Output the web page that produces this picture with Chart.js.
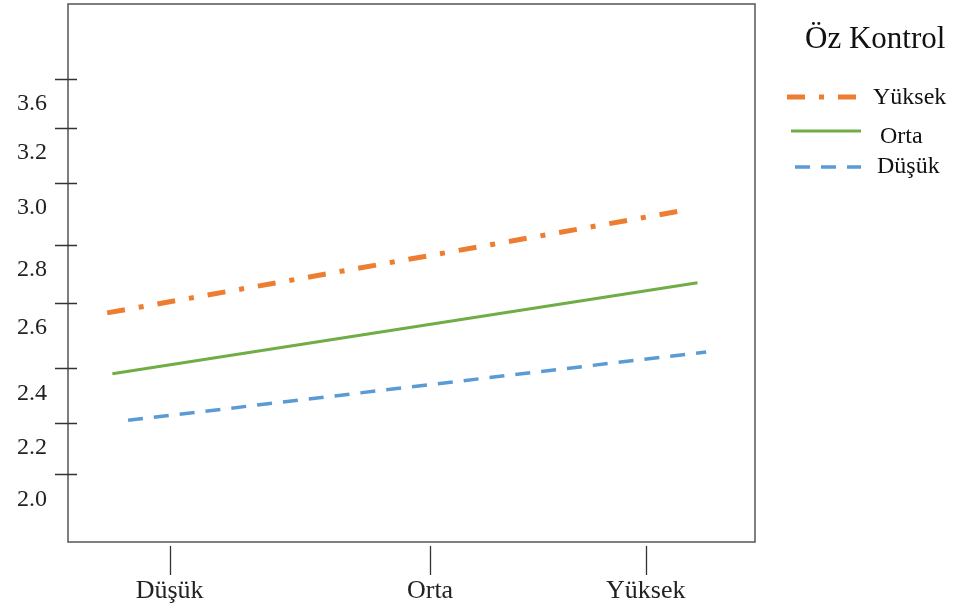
<!DOCTYPE html>
<html>
<head>
<meta charset="utf-8">
<script src="https://cdn.jsdelivr.net/npm/chart.js@4.4.0/dist/chart.umd.min.js"></script>
<style>
  body { margin: 0; background: #fff; }
</style>
</head>
<body>
<canvas id="ozKontrolChart" width="962" height="608"></canvas>
<script>
// categories on the x axis and the (uneven) y axis labels
const categories = ['Düşük', 'Orta', 'Yüksek'];
const yTickValues = [2.0, 2.2, 2.4, 2.6, 2.8, 3.0, 3.2, 3.6];
const yTickLabels = ['2.0', '2.2', '2.4', '2.6', '2.8', '3.0', '3.2', '3.6'];

// each line: start and end, x in category units, y in axis values
const seriesNames = ['Yüksek', 'Orta', 'Düşük'];
const yuksekX = [-0.24, 2.16];
const yuksekY = [2.57, 2.91];
const ortaX = [-0.22, 2.24];
const ortaY = [2.38, 2.67];
const dusukX = [-0.16, 2.28];
const dusukY = [2.21, 2.45];

// layout: tick spots as a fraction of the plot box (the picture is not evenly spaced)
const xTickFrac = [0.148, 0.527, 0.841];
const yTickFrac = [0.126, 0.221, 0.323, 0.444, 0.552, 0.667, 0.770, 0.861];

const serif = 'Liberation Serif';

// piecewise linear from axis values to plot fraction, extrapolating at both ends
function naarAs(v, waarden, posities) {
  let i = 0;
  while (i < waarden.length - 2 && v > waarden[i + 1]) i++;
  const t = (v - waarden[i]) / (waarden[i + 1] - waarden[i]);
  return posities[i] + t * (posities[i + 1] - posities[i]);
}

function maakPunten(xs, ys) {
  return xs.map((x, i) => ({
    x: naarAs(x, [0, 1, 2], xTickFrac),
    y: naarAs(ys[i], yTickValues, yTickFrac)
  }));
}

// box round the plot plus the tick marks
const kaderPlugin = {
  id: 'kader',
  afterDraw(chart) {
    const ctx = chart.ctx;
    const a = chart.chartArea;
    ctx.save();
    ctx.strokeStyle = '#5f5f5f';
    ctx.lineWidth = 1.6;
    ctx.strokeRect(a.left, a.top, a.right - a.left, a.bottom - a.top);
    ctx.strokeStyle = '#333';
    ctx.lineWidth = 1.3;
    ctx.beginPath();
    yTickFrac.forEach(f => {
      const y = Math.round(chart.scales.y.getPixelForValue(f)) + 0.5;
      ctx.moveTo(a.left - 13, y);
      ctx.lineTo(a.left + 9, y);
    });
    xTickFrac.forEach(f => {
      const x = Math.round(chart.scales.x.getPixelForValue(f)) + 0.5;
      ctx.moveTo(x, a.bottom + 4);
      ctx.lineTo(x, a.bottom + 33);
    });
    ctx.stroke();
    ctx.restore();
  }
};

// legend on the right, drawn from the datasets
const legendePlugin = {
  id: 'legende',
  afterDraw(chart) {
    const ctx = chart.ctx;
    const lijnStart = [787, 791, 795];
    const tekstX = [873, 880, 877];
    const lijnY = [97, 131, 167];
    const tekstY = [104, 143, 173];
    ctx.save();
    ctx.fillStyle = '#111';
    ctx.font = '31px "' + serif + '"';
    ctx.textBaseline = 'alphabetic';
    ctx.fillText('Öz Kontrol', 805, 48);
    chart.data.datasets.forEach((ds, i) => {
      ctx.strokeStyle = ds.borderColor;
      ctx.lineWidth = ds.borderWidth;
      ctx.setLineDash(ds.borderDash || []);
      ctx.beginPath();
      ctx.moveTo(lijnStart[i], lijnY[i]);
      ctx.lineTo(861, lijnY[i]);
      ctx.stroke();
      ctx.setLineDash([]);
      ctx.font = '24px "' + serif + '"';
      ctx.fillText(ds.label, tekstX[i], tekstY[i]);
    });
    ctx.restore();
  }
};

const ozKontrolData = {
  datasets: [{
    label: seriesNames[0],
    data: maakPunten(yuksekX, yuksekY),
    borderColor: '#ED7D31',
    borderWidth: 5,
    borderDash: [18, 14, 5, 14]
  }, {
    label: seriesNames[1],
    data: maakPunten(ortaX, ortaY),
    borderColor: '#70AD47',
    borderWidth: 3
  }, {
    label: seriesNames[2],
    data: maakPunten(dusukX, dusukY),
    borderColor: '#5B9BD5',
    borderWidth: 3.5,
    borderDash: [15, 11]
  }]
};

const ozKontrolOptions = {
  responsive: false,
  animation: false,
  layout: { padding: { top: 4, right: 207, left: 0, bottom: 0 } },
  elements: { point: { radius: 0 }, line: { tension: 0 } },
  plugins: { legend: { display: false }, tooltip: { enabled: false } },
  scales: {
    x: {
      type: 'linear',
      min: 0,
      max: 1,
      afterBuildTicks: s => { s.ticks = xTickFrac.map(v => ({ value: v })); },
      afterFit: s => { s.height = 66; s.paddingLeft = 0; s.paddingRight = 0; },
      border: { display: false },
      grid: { drawOnChartArea: false, color: 'transparent', tickLength: 34 },
      ticks: {
        autoSkip: false,
        maxRotation: 0,
        padding: 0,
        color: '#222',
        font: { family: serif, size: 26 },
        callback: (v, i) => categories[i]
      }
    },
    y: {
      type: 'linear',
      min: 0,
      max: 1,
      afterBuildTicks: s => { s.ticks = yTickFrac.map(v => ({ value: v })); },
      afterFit: s => { s.width = 68; s.paddingTop = 0; s.paddingBottom = 0; },
      border: { display: false },
      grid: { drawOnChartArea: false, color: 'transparent', tickLength: 13 },
      ticks: {
        autoSkip: false,
        padding: 8,
        labelOffset: 25,
        color: '#222',
        font: { family: serif, size: 24 },
        callback: (v, i) => yTickLabels[i]
      }
    }
  }
};

const ozKontrolChart = new Chart(document.getElementById('ozKontrolChart').getContext('2d'), {
  type: 'line',
  data: ozKontrolData,
  options: ozKontrolOptions,
  plugins: [kaderPlugin, legendePlugin]
});
</script>
</body>
</html>
